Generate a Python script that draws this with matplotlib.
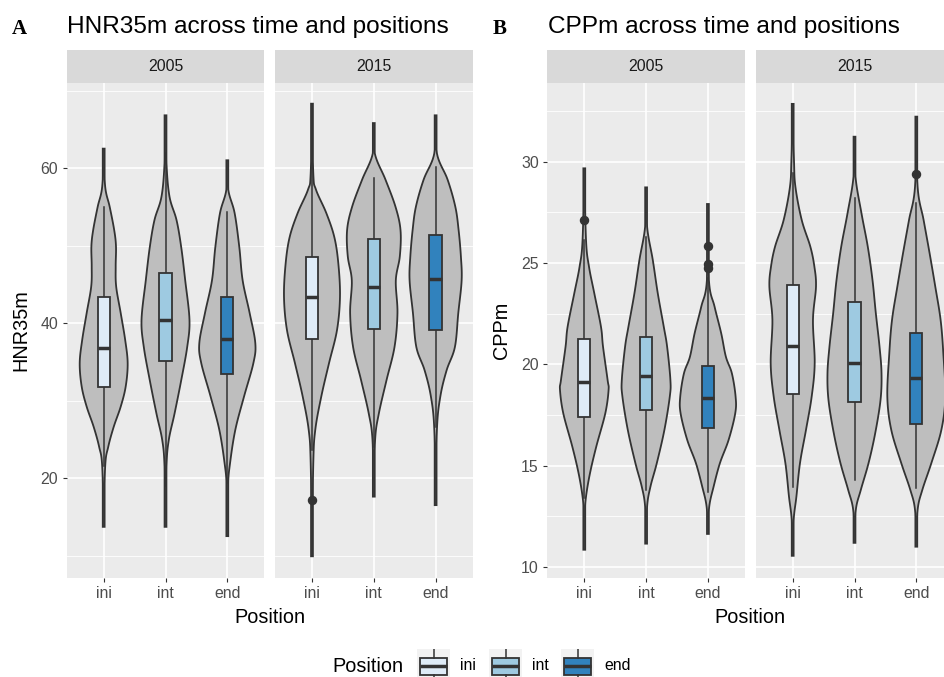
import numpy as np
import matplotlib
matplotlib.use("Agg")
import matplotlib.pyplot as plt
from matplotlib.patches import Rectangle

plt.rcParams['font.family'] = ['Liberation Sans', 'DejaVu Sans']

positions = ["ini", "int", "end"]
years = ["2005", "2015"]
box_fill = ["#DEEBF7", "#9ECAE1", "#3182BD"]

# violin outlines: y values and half widths (category units)
hnr_2005_ini_y = [62.5, 57.6, 55.0, 52.0, 49.9, 47.3, 44.7, 41.3, 37.8, 34.8, 31.8, 29.2, 26.6, 24.0, 21.5, 13.7]
hnr_2005_ini_w = [0, 0.024, 0.097, 0.17, 0.199, 0.194, 0.202, 0.275, 0.348, 0.388, 0.356, 0.275, 0.162, 0.073, 0.024, 0]
hnr_2005_int_y = [66.8, 60.6, 56.3, 53.3, 49.8, 45.5, 40.4, 36.9, 32.6, 28.3, 24.9, 21.5, 13.7]
hnr_2005_int_w = [0, 0.016, 0.065, 0.178, 0.254, 0.319, 0.388, 0.351, 0.254, 0.146, 0.053, 0.016, 0]
hnr_2005_end_y = [61.0, 57.2, 54.2, 49.8, 45.5, 41.3, 37.4, 34.8, 30.5, 26.2, 21.9, 18.9, 12.5]
hnr_2005_end_w = [0, 0.016, 0.118, 0.194, 0.248, 0.361, 0.453, 0.421, 0.27, 0.129, 0.044, 0.011, 0]
hnr_2015_ini_y = [68.3, 59.3, 57.2, 54.2, 51.1, 47.7, 43.4, 39.1, 34.8, 30.5, 26.2, 21.9, 9.9]
hnr_2015_ini_w = [0, 0.021, 0.065, 0.231, 0.361, 0.426, 0.453, 0.405, 0.275, 0.15, 0.053, 0.021, 0]
hnr_2015_int_y = [65.8, 61.9, 58.5, 55.0, 52.0, 48.6, 45.5, 41.3, 36.9, 32.6, 28.3, 24.9, 17.6]
hnr_2015_int_w = [0, 0.016, 0.189, 0.351, 0.432, 0.421, 0.356, 0.383, 0.335, 0.205, 0.081, 0.021, 0]
hnr_2015_end_y = [66.8, 61.9, 58.5, 55.0, 52.0, 48.6, 45.5, 41.3, 36.9, 33.9, 30.5, 26.2, 16.5]
hnr_2015_end_w = [0, 0.021, 0.194, 0.319, 0.372, 0.409, 0.421, 0.367, 0.312, 0.178, 0.076, 0.021, 0]

cpp_2005_ini_y = [29.67, 26.13, 24.82, 23.5, 21.85, 20.87, 19.23, 18.73, 17.58, 15.94, 14.62, 13.47, 12.65, 10.85]
cpp_2005_ini_w = [0, 0.028, 0.076, 0.162, 0.27, 0.303, 0.377, 0.393, 0.34, 0.194, 0.092, 0.028, 0.011, 0]
cpp_2005_int_y = [28.73, 26.79, 25.15, 23.5, 21.85, 20.87, 19.23, 18.4, 16.76, 15.12, 13.96, 12.97, 11.15]
cpp_2005_int_w = [0, 0.016, 0.108, 0.189, 0.286, 0.34, 0.393, 0.383, 0.296, 0.173, 0.07, 0.016, 0]
cpp_2005_end_y = [27.91, 24.16, 22.84, 21.53, 20.37, 19.55, 18.4, 17.58, 16.27, 15.12, 13.96, 12.97, 11.63]
cpp_2005_end_w = [0, 0.016, 0.108, 0.215, 0.291, 0.388, 0.448, 0.442, 0.335, 0.194, 0.092, 0.021, 0]
cpp_2015_ini_y = [32.85, 30.08, 28.76, 27.12, 25.8, 24.82, 23.83, 22.19, 20.05, 18.4, 16.76, 15.12, 13.47, 12.32, 10.55]
cpp_2015_ini_w = [0, 0.021, 0.044, 0.146, 0.286, 0.351, 0.377, 0.328, 0.356, 0.307, 0.215, 0.118, 0.06, 0.016, 0]
cpp_2015_int_y = [31.23, 29.26, 27.45, 25.8, 24.16, 22.52, 20.87, 19.56, 18.24, 16.6, 15.12, 13.8, 12.81, 11.19]
cpp_2015_int_w = [0, 0.016, 0.113, 0.215, 0.291, 0.345, 0.405, 0.437, 0.421, 0.335, 0.227, 0.102, 0.021, 0]
cpp_2015_end_y = [32.22, 28.76, 27.12, 25.48, 23.83, 22.19, 20.54, 18.4, 16.76, 15.12, 13.8, 12.81, 11.0]
cpp_2015_end_w = [0, 0.021, 0.118, 0.215, 0.307, 0.393, 0.437, 0.469, 0.405, 0.243, 0.097, 0.021, 0]

# boxplots: [lower whisker, q1, median, q3, upper whisker] for ini, int, end
hnr_2005_box = [[21.5, 31.8, 36.8, 43.3, 55.0], [19.0, 35.1, 40.4, 46.4, 62.0], [19.3, 33.4, 37.9, 43.3, 54.3]]
hnr_2015_box = [[23.6, 37.9, 43.3, 48.5, 60.6], [24.0, 39.2, 44.6, 50.8, 58.7], [26.6, 39.1, 45.7, 51.3, 60.1]]
cpp_2005_box = [[13.39, 17.39, 19.14, 21.23, 26.13], [13.8, 17.75, 19.44, 21.36, 26.3], [13.72, 16.87, 18.35, 19.93, 24.24]]
cpp_2015_box = [[13.93, 18.52, 20.92, 23.91, 29.42], [14.29, 18.13, 20.05, 23.09, 28.19], [13.88, 17.04, 19.34, 21.53, 27.94]]

hnr_2005_out = [[], [], []]
hnr_2015_out = [[17.1], [], []]
cpp_2005_out = [[27.1], [], [25.85, 24.93, 24.74]]
cpp_2015_out = [[], [], [29.37]]

W, H = 944, 677
fig = plt.figure(figsize=(W / 100, H / 100), dpi=100)


def rect(l, t, r, b):
    return [l / W, 1 - b / H, (r - l) / W, (b - t) / H]


def smooth(y, w, n=10):
    P = np.column_stack([y, w]).astype(float)
    P = np.vstack([P[0], P, P[-1]])
    out = []
    t = np.linspace(0, 1, n, endpoint=False)[:, None]
    for i in range(1, len(P) - 2):
        p0, p1, p2, p3 = P[i - 1], P[i], P[i + 1], P[i + 2]
        out.append(0.5 * (2 * p1 + (-p0 + p2) * t + (2 * p0 - 5 * p1 + 4 * p2 - p3) * t ** 2
                          + (-p0 + 3 * p1 - 3 * p2 + p3) * t ** 3))
    out.append(P[-2][None])
    return np.vstack(out)


def violin(ax, xc, ys, ws):
    pts = smooth(ys, ws)
    yy = pts[:, 0]
    ww = np.clip(pts[:, 1], 0.015, None)
    xs = np.concatenate([xc - ww, (xc + ww)[::-1]])
    yv = np.concatenate([yy, yy[::-1]])
    ax.fill(xs, yv, facecolor="#BEBEBE", edgecolor="#333333", lw=1.3, zorder=2)


def boxplot(ax, xc, st, outs, fill):
    lo, q1, med, q3, hi = st
    ax.plot([xc, xc], [lo, q1], color="#333333", lw=1.1, zorder=3)
    ax.plot([xc, xc], [q3, hi], color="#333333", lw=1.1, zorder=3)
    ax.add_patch(Rectangle((xc - 0.1, q1), 0.2, q3 - q1, facecolor=fill,
                           edgecolor="#333333", lw=1.3, zorder=4))
    ax.plot([xc - 0.1, xc + 0.1], [med, med], color="#333333", lw=2.5,
            solid_capstyle="butt", zorder=5)
    for v in outs:
        ax.plot(xc, v, "o", ms=5.8, color="#333333", zorder=6)


def panel(l, r, ylim, major, minor, shapes, box, outs, year, left):
    ax = fig.add_axes(rect(l, 83, r, 578.3))
    ax.set_facecolor("#EBEBEB")
    ax.set_xlim(0.4, 3.6)
    ax.set_ylim(*ylim)
    for s in ax.spines.values():
        s.set_visible(False)
    for v in minor:
        ax.axhline(v, color="white", lw=0.6, zorder=0)
    for v in major:
        ax.axhline(v, color="white", lw=1.2, zorder=0)
    for i in range(3):
        ax.axvline(i + 1, color="white", lw=1.2, zorder=0)
    ax.set_axisbelow(True)
    for i, (ys, ws) in enumerate(shapes):
        violin(ax, i + 1, ys, ws)
        boxplot(ax, i + 1, box[i], outs[i], box_fill[i])
    ax.set_xticks([1, 2, 3])
    ax.set_xticklabels(positions)
    ax.set_yticks(major)
    if left:
        ax.set_yticklabels([str(v) for v in major])
        ax.tick_params(axis="y", length=3, width=0.8, color="#333333", pad=3,
                       labelsize=11.4, labelcolor="#4D4D4D")
    else:
        ax.tick_params(axis="y", length=0, labelleft=False)
    ax.tick_params(axis="x", length=3, width=0.8, color="#333333", pad=2.5,
                   labelsize=11.4, labelcolor="#4D4D4D")
    st = fig.add_axes(rect(l, 50, r, 83))
    st.set_facecolor("#D9D9D9")
    st.set_xticks([])
    st.set_yticks([])
    for s in st.spines.values():
        s.set_visible(False)
    st.text(0.5, 0.5, year, ha="center", va="center", fontsize=11.4,
            color="#1A1A1A", transform=st.transAxes)
    return ax


# plot A
hnr_shapes_2005 = [(hnr_2005_ini_y, hnr_2005_ini_w), (hnr_2005_int_y, hnr_2005_int_w), (hnr_2005_end_y, hnr_2005_end_w)]
hnr_shapes_2015 = [(hnr_2015_ini_y, hnr_2015_ini_w), (hnr_2015_int_y, hnr_2015_int_w), (hnr_2015_end_y, hnr_2015_end_w)]
panel(66.6, 264.4, (7.06, 70.97), [20, 40, 60], [10, 30, 50, 70], hnr_shapes_2005,
      hnr_2005_box, hnr_2005_out, years[0], True)
panel(274.9, 472.7, (7.06, 70.97), [20, 40, 60], [10, 30, 50, 70], hnr_shapes_2015,
      hnr_2015_box, hnr_2015_out, years[1], False)

# plot B
cpp_shapes_2005 = [(cpp_2005_ini_y, cpp_2005_ini_w), (cpp_2005_int_y, cpp_2005_int_w), (cpp_2005_end_y, cpp_2005_end_w)]
cpp_shapes_2015 = [(cpp_2015_ini_y, cpp_2015_ini_w), (cpp_2015_int_y, cpp_2015_int_w), (cpp_2015_end_y, cpp_2015_end_w)]
panel(547.2, 745.0, (9.44, 33.88), [10, 15, 20, 25, 30], [12.5, 17.5, 22.5, 27.5, 32.5],
      cpp_shapes_2005, cpp_2005_box, cpp_2005_out, years[0], True)
panel(755.6, 953.4, (9.44, 33.88), [10, 15, 20, 25, 30], [12.5, 17.5, 22.5, 27.5, 32.5],
      cpp_shapes_2015, cpp_2015_box, cpp_2015_out, years[1], False)

# titles, tags, axis titles
fig.text(12 / W, 1 - 33.5 / H, "A", family="Liberation Serif", fontweight="bold",
         fontsize=15, va="baseline")
fig.text(66.7 / W, 1 - 33.5 / H, "HNR35m across time and positions", fontsize=17.6, va="baseline")
fig.text(493 / W, 1 - 33.5 / H, "B", family="Liberation Serif", fontweight="bold",
         fontsize=15, va="baseline")
fig.text(548.3 / W, 1 - 33.5 / H, "CPPm across time and positions", fontsize=17.6, va="baseline")

fig.text(269.6 / W, 1 - 623 / H, "Position", fontsize=14.3, ha="center", va="baseline")
fig.text(750.3 / W, 1 - 623 / H, "Position", fontsize=14.3, ha="center", va="baseline")
fig.text(20.5 / W, 1 - 330.6 / H, "HNR35m", fontsize=14.3, rotation=90, ha="center", va="center")
fig.text(501 / W, 1 - 330.6 / H, "CPPm", fontsize=14.3, rotation=90, ha="center", va="center")

# legend
fig.text(332 / W, 1 - 666.5 / H, "Position", fontsize=14.3, ha="left", va="center")
key_left = [417, 489, 561]
for i, pos in enumerate(positions):
    kx = key_left[i]
    k = fig.add_axes(rect(kx, 649, kx + 33, 683))
    k.set_facecolor("#F2F2F2")
    k.set_xlim(0, 1)
    k.set_ylim(0, 1)
    k.set_xticks([])
    k.set_yticks([])
    for s in k.spines.values():
        s.set_visible(False)
    k.plot([0.5, 0.5], [0, 0.25], color="#333333", lw=1.1)
    k.plot([0.5, 0.5], [0.75, 1], color="#333333", lw=1.1)
    k.add_patch(Rectangle((0.1, 0.25), 0.8, 0.5, facecolor=box_fill[i],
                          edgecolor="#333333", lw=1.3))
    k.plot([0.1, 0.9], [0.5, 0.5], color="#333333", lw=2.5, solid_capstyle="butt")
    fig.text((kx + 43) / W, 1 - 666 / H, pos, fontsize=11.4, ha="left", va="center")

fig.savefig("out.png", dpi=100, facecolor="white")
